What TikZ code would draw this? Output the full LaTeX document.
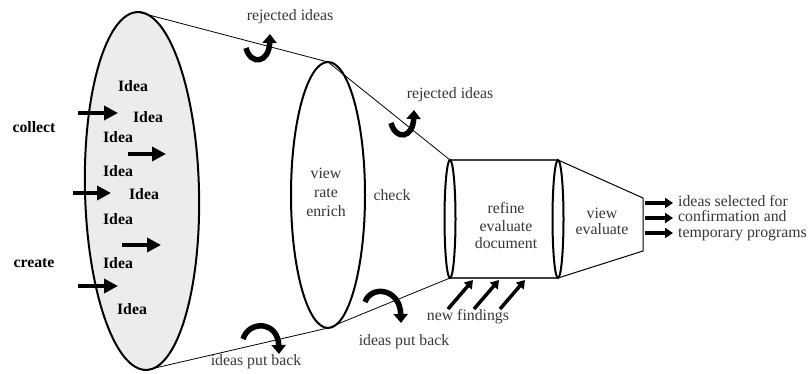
\documentclass[tikz,border=0pt]{standalone}
\usepackage{fontspec}
\setmainfont{Liberation Serif}
\usetikzlibrary{arrows.meta,calc}
\definecolor{inkgray}{RGB}{55,55,55}
\definecolor{ideafill}{RGB}{236,236,236}
\newcommand{\lbl}[1]{\fontsize{15.8}{#1}\selectfont}

\begin{document}
\begin{tikzpicture}[x=1pt, y=-1pt,
    every node/.style={font=\lbl{16}, text=inkgray, inner sep=0pt},
    idea/.style={font=\lbl{16}\bfseries, text=black},
    push/.style={line width=4pt, -{Triangle[length=14pt,width=14pt]}},
    outarrow/.style={line width=3.5pt, -{Triangle[length=8pt,width=10pt]}},
    hook/.style={line width=5.5pt, -{Triangle[length=9pt,width=14pt]}},
    rim/.style={line width=2pt},
    edge/.style={line width=0.8pt}]
  \useasboundingbox (0,0) rectangle (812,374);

  % Idea pool (big opening)
  \draw[rim, fill=ideafill, rotate around={1.4:(142,191)}] (142,191) ellipse [x radius=57, y radius=179];
  \coordinate (pooltop) at (137.6,12);
  \coordinate (poolbot) at (146.4,370);

  % Second stage
  \coordinate (viewtop) at (328,62);
  \coordinate (viewbot) at (328,328);
  \draw[edge] (pooltop) -- (viewtop);
  \draw[edge] (poolbot) -- (viewbot);
  \draw[rim, fill=white] (328,195) ellipse [x radius=37, y radius=133];

  % Refine drum
  \coordinate (drumtl) at (450,160);
  \coordinate (drumbl) at (450,278);
  \coordinate (drumtr) at (558,160);
  \coordinate (drumbr) at (558,278);
  \draw[edge] (viewtop) -- (drumtl);
  \draw[edge] (viewbot) -- (drumbl);
  \draw[line width=1.4pt, draw=black!75] (drumtl) -- (drumtr);
  \draw[line width=1.4pt, draw=black!75] (drumbl) -- (drumbr);
  \draw[rim] (450,219) ellipse [x radius=5.5, y radius=59];

  % Output nozzle
  \coordinate (nozzletr) at (643,198);
  \coordinate (nozzlebr) at (643,251);
  \draw[line width=1pt] (drumtr) -- (nozzletr) -- (nozzlebr) -- (drumbr);
  \draw[rim, fill=white] (558,219) ellipse [x radius=5.5, y radius=59];

  % Ideas inside the pool
  \node[idea] (idea1) at (133,86) {Idea};
  \node[idea] (idea2) at (148,117) {Idea};
  \node[idea] (idea3) at (118,137) {Idea};
  \node[idea] (idea4) at (118,171) {Idea};
  \node[idea] (idea5) at (144,194) {Idea};
  \node[idea] (idea6) at (118,219) {Idea};
  \node[idea] (idea7) at (118,263) {Idea};
  \node[idea] (idea8) at (132,309) {Idea};
  \node[idea] (collect) at (34,127) {collect};
  \node[idea] (create) at (34,263) {create};

  % Incoming arrows
  \coordinate (in1a) at (78,113);  \coordinate (in1b) at (118,113);
  \coordinate (in2a) at (128,154); \coordinate (in2b) at (166,154);
  \coordinate (in3a) at (73,193);  \coordinate (in3b) at (111,193);
  \coordinate (in4a) at (122,245); \coordinate (in4b) at (161,245);
  \coordinate (in5a) at (78,286);  \coordinate (in5b) at (118,286);
  \foreach \i in {1,...,5}
    \draw[push] (in\i a) -- (in\i b);

  % Stage labels
  \node[align=center, font=\lbl{19}] (viewrate) at (326,192) {view\\rate\\enrich};
  \node (check) at (392,195) {check};
  \node[align=center, font=\lbl{17.5}] (refine) at (506,226) {refine\\evaluate\\document};
  \node[align=center, font=\lbl{16}] (viewevaluate) at (602,221) {view\\evaluate};

  % Rejected ideas
  \node (rejected1) at (290,17) {rejected ideas};
  \node (rejected2) at (450,95) {rejected ideas};
  \coordinate (rej1a) at (246,48);  \coordinate (rej1b) at (270,34);
  \coordinate (rej2a) at (391,123); \coordinate (rej2b) at (414,110);
  \draw[hook] (rej1a) .. controls (251,66) and (269,63) .. (rej1b);
  \draw[hook] (rej2a) .. controls (396,141) and (413,138) .. (rej2b);

  % Ideas put back
  \node (putback1) at (256,362) {ideas put back};
  \node (putback2) at (404,342) {ideas put back};
  \coordinate (back1a) at (243,339); \coordinate (back1b) at (279,354);
  \coordinate (back2a) at (365,302); \coordinate (back2b) at (401,323);
  \draw[hook] (back1a) .. controls (249,320) and (278,321) .. (back1b);
  \draw[hook] (back2a) .. controls (371,285) and (400,288) .. (back2b);

  % New findings
  \node (findings) at (468,317) {new findings};
  \foreach \x [count=\k] in {448,474,500}
    \draw[outarrow] (\x,309) -- ++(25,-29);

  % Selected output
  \node[anchor=west, align=left, font=\lbl{15.5}] (selected) at (678,218)
    {ideas selected for\\confirmation and\\temporary programs};
  \foreach \y in {203,218,233}
    \draw[outarrow] (645,\y) -- (673,\y);
\end{tikzpicture}
\end{document}
